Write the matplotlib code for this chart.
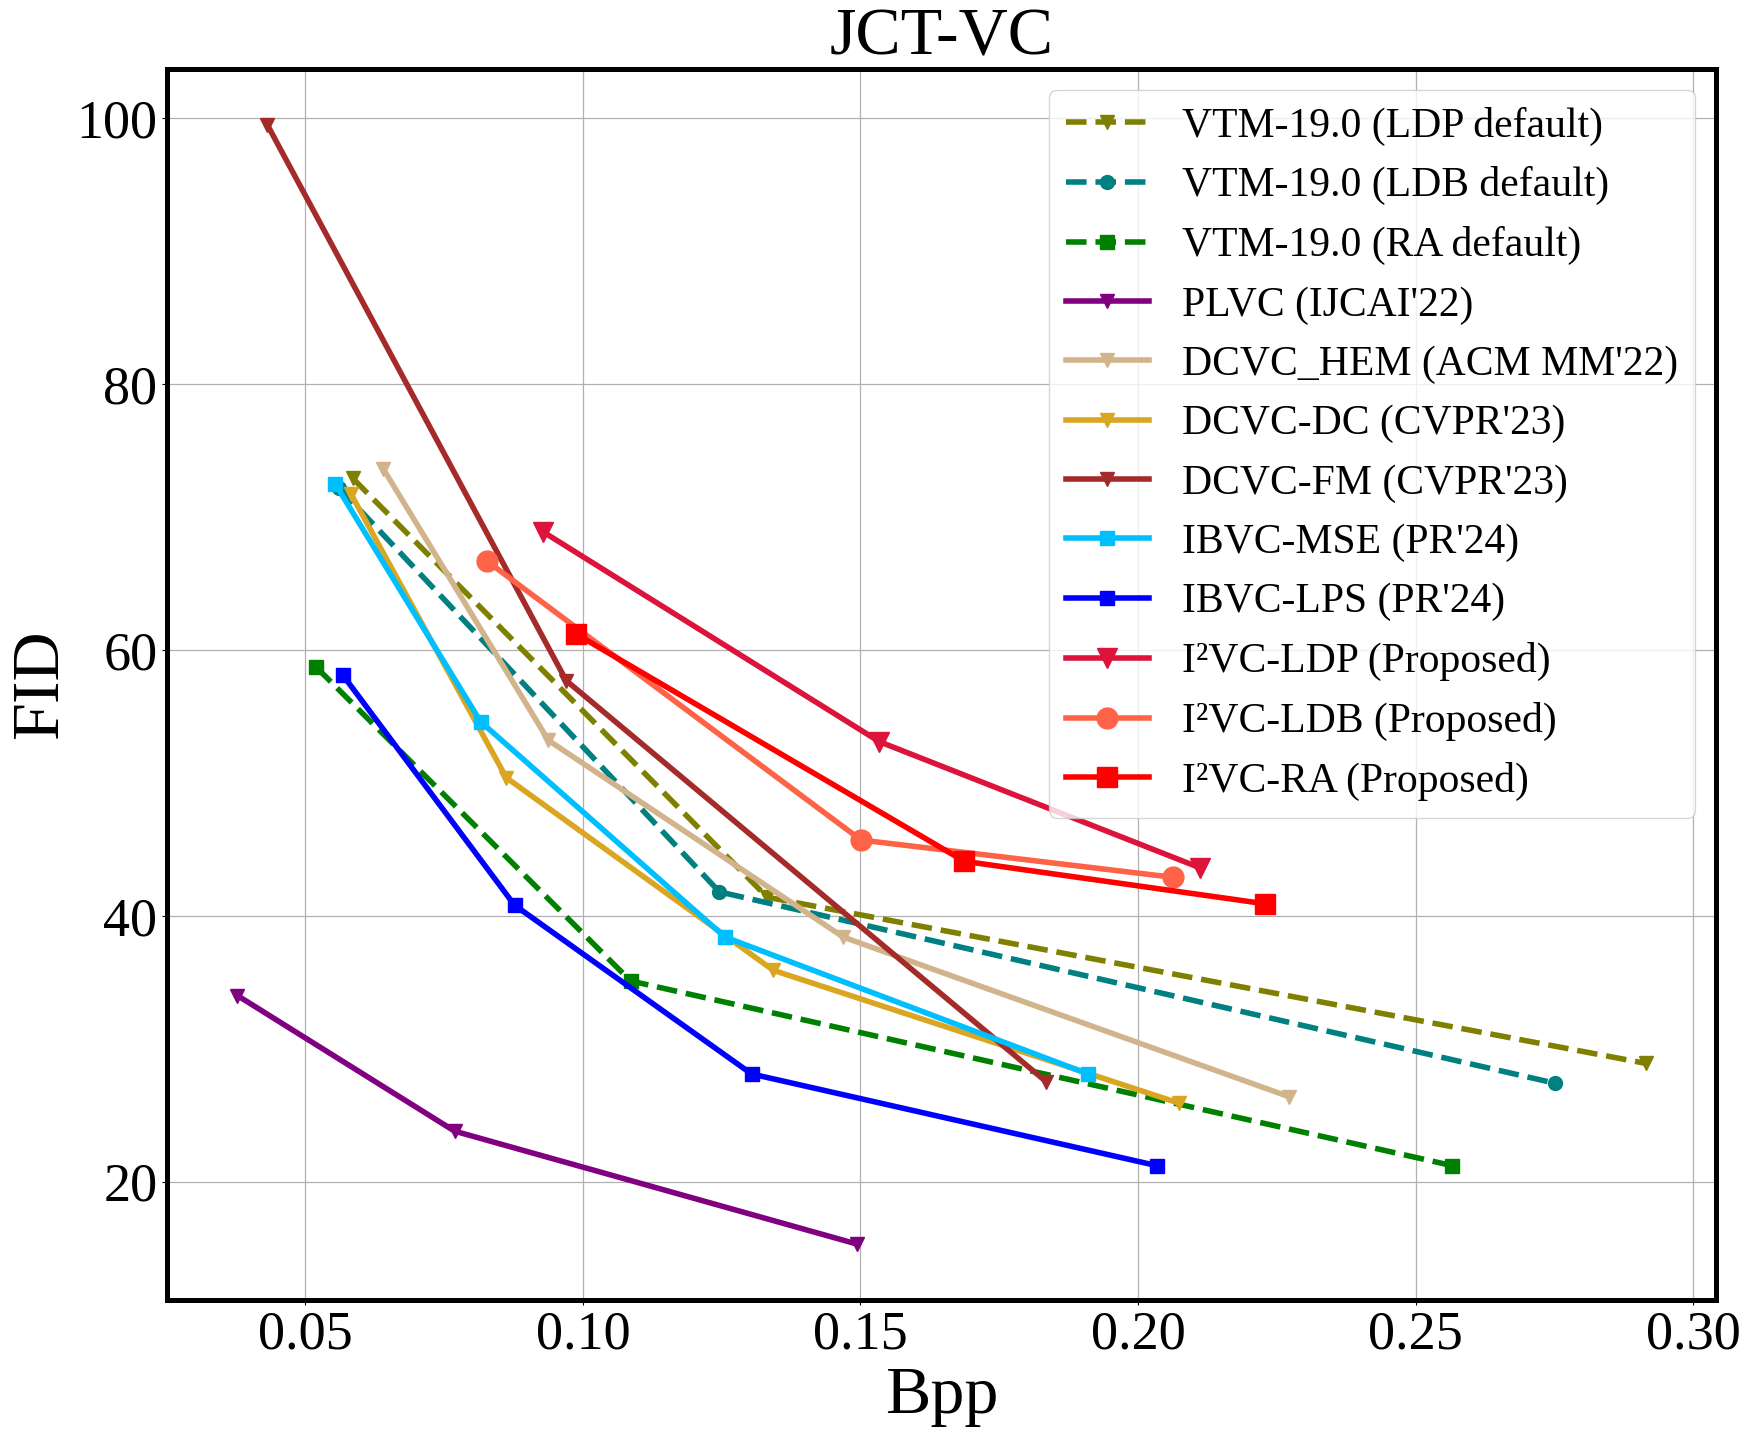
import matplotlib
matplotlib.use('Agg')
import matplotlib.pyplot as plt

plt.rcParams['font.family'] = ['Liberation Serif', 'DejaVu Serif']

# Bpp / FID values
vtm_ldp_bpp = [0.0586, 0.1332, 0.2914]
vtm_ldp_fid = [72.9, 41.4, 28.9]
vtm_ldb_bpp = [0.0561, 0.1246, 0.2751]
vtm_ldb_fid = [72.2, 41.8, 27.4]
vtm_ra_bpp = [0.0520, 0.1086, 0.2566]
vtm_ra_fid = [58.7, 35.1, 21.2]
plvc_bpp = [0.0378, 0.0769, 0.1494]
plvc_fid = [34.0, 23.8, 15.3]
hem_bpp = [0.0641, 0.0938, 0.1469, 0.2271]
hem_fid = [73.6, 53.2, 38.4, 26.4]
dc_bpp = [0.0583, 0.0862, 0.1343, 0.2074]
dc_fid = [71.7, 50.4, 35.9, 25.9]
fm_bpp = [0.0432, 0.0970, 0.1835]
fm_fid = [99.5, 57.7, 27.5]
mse_bpp = [0.0554, 0.0816, 0.1256, 0.1910]
mse_fid = [72.5, 54.6, 38.4, 28.1]
lps_bpp = [0.0568, 0.0877, 0.1304, 0.2034]
lps_fid = [58.1, 40.8, 28.1, 21.2]
i2_ldp_bpp = [0.0928, 0.1534, 0.2112]
i2_ldp_fid = [68.9, 53.1, 43.6]
i2_ldb_bpp = [0.0827, 0.1501, 0.2062]
i2_ldb_fid = [66.7, 45.7, 42.9]
i2_ra_bpp = [0.0988, 0.1687, 0.2229]
i2_ra_fid = [61.2, 44.1, 40.9]

fig = plt.figure(figsize=(17.47, 14.34), dpi=100)
ax = fig.add_axes([0.0956, 0.0934, 0.8867, 0.8585])

lw = 4
ms = 10
big = 15
ax.plot(vtm_ldp_bpp, vtm_ldp_fid, '--', color='olive', marker='v', lw=lw, ms=ms, label='VTM-19.0 (LDP default)')
ax.plot(vtm_ldb_bpp, vtm_ldb_fid, '--', color='teal', marker='o', lw=lw, ms=ms, label='VTM-19.0 (LDB default)')
ax.plot(vtm_ra_bpp, vtm_ra_fid, '--', color='green', marker='s', lw=lw, ms=ms, label='VTM-19.0 (RA default)')
ax.plot(plvc_bpp, plvc_fid, '-', color='purple', marker='v', lw=lw, ms=ms, label="PLVC (IJCAI'22)")
ax.plot(hem_bpp, hem_fid, '-', color='tan', marker='v', lw=lw, ms=ms, label="DCVC_HEM (ACM MM'22)")
ax.plot(dc_bpp, dc_fid, '-', color='goldenrod', marker='v', lw=lw, ms=ms, label="DCVC-DC (CVPR'23)")
ax.plot(fm_bpp, fm_fid, '-', color='brown', marker='v', lw=lw, ms=ms, label="DCVC-FM (CVPR'23)")
ax.plot(mse_bpp, mse_fid, '-', color='deepskyblue', marker='s', lw=lw, ms=ms, label="IBVC-MSE (PR'24)")
ax.plot(lps_bpp, lps_fid, '-', color='blue', marker='s', lw=lw, ms=ms, label="IBVC-LPS (PR'24)")
ax.plot(i2_ldp_bpp, i2_ldp_fid, '-', color='crimson', marker='v', lw=lw, ms=big, label='I²VC-LDP (Proposed)')
ax.plot(i2_ldb_bpp, i2_ldb_fid, '-', color='tomato', marker='o', lw=lw, ms=big, label='I²VC-LDB (Proposed)')
ax.plot(i2_ra_bpp, i2_ra_fid, '-', color='red', marker='s', lw=lw, ms=big, label='I²VC-RA (Proposed)')

ax.set_title('JCT-VC', fontsize=49, pad=9)
ax.set_xlabel('Bpp', fontsize=49)
ax.set_ylabel('FID', fontsize=49)
ax.tick_params(labelsize=39)
ax.grid(True, color='#b0b0b0', linewidth=0.9)
for s in ax.spines.values():
    s.set_linewidth(3.6)

ax.legend(fontsize=30, loc='upper right')

fig.savefig('out.png', dpi=100)
